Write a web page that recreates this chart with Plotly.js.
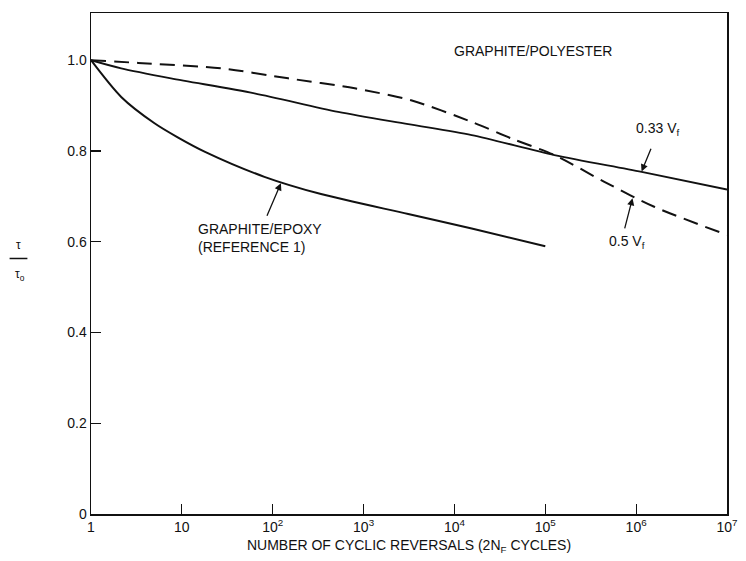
<!DOCTYPE html>
<html>
<head>
<meta charset="utf-8">
<script src="https://cdn.plot.ly/plotly-3.0.1.min.js"></script>
<style>html,body{margin:0;padding:0;background:#fff;}#chart{width:746px;height:561px;}</style>
</head>
<body>
<div id="chart"></div>
<script>
// Graphite/epoxy (Reference 1)
const epoxyX = [1, 2.15, 5, 9, 18, 81, 340, 3100, 15500, 100000];
const epoxyY = [1.0, 0.919, 0.861, 0.830, 0.798, 0.743, 0.705, 0.661, 0.629, 0.590];
// Graphite/polyester 0.33 Vf
const v033X = [1, 2.15, 7.6, 63, 525, 3100, 15500, 126000, 1150000, 10000000];
const v033Y = [1.0, 0.982, 0.960, 0.927, 0.886, 0.859, 0.835, 0.791, 0.754, 0.715];
// Graphite/polyester 0.5 Vf
const v05X = [1, 3.3, 27, 148, 800, 3400, 15500, 43000, 126000, 447000, 1580000, 10000000];
const v05Y = [1.0, 0.994, 0.982, 0.960, 0.938, 0.911, 0.864, 0.827, 0.791, 0.732, 0.677, 0.615];

const xTickVals = [1, 10, 100, 1000, 10000, 100000, 1000000, 10000000];
const xTickText = ['1', '10', '10<sup>2</sup>', '10<sup>3</sup>', '10<sup>4</sup>', '10<sup>5</sup>', '10<sup>6</sup>', '10<sup>7</sup>'];
const yTickVals = [0, 0.2, 0.4, 0.6, 0.8, 1.0];
const yTickText = ['0', '0.2', '0.4', '0.6', '0.8', '1.0'];

const FAM = 'Liberation Sans, Arial, sans-serif';
const INK = '#111';
const f = (s) => ({family: FAM, size: s, color: INK});

const traces = [
  {x: epoxyX, y: epoxyY, mode: 'lines', line: {color: INK, width: 2, shape: 'spline', smoothing: 0.8}, hoverinfo: 'skip'},
  {x: v033X, y: v033Y, mode: 'lines', line: {color: INK, width: 1.8, shape: 'spline', smoothing: 0.8}, hoverinfo: 'skip'},
  {x: v05X, y: v05Y, mode: 'lines', line: {color: INK, width: 2, shape: 'spline', smoothing: 0.8, dash: '15px,8px'}, hoverinfo: 'skip'}
];

const arrow = {text: '', showarrow: true, arrowhead: 2, arrowsize: 1.1, arrowwidth: 1.3, arrowcolor: INK, xref: 'x', yref: 'y', axref: 'x', ayref: 'y', standoff: 0};

const layout = {
  width: 746, height: 561,
  margin: {l: 91, r: 19, t: 13, b: 47},
  paper_bgcolor: '#fff', plot_bgcolor: '#fff',
  showlegend: false,
  font: f(14),
  xaxis: {
    type: 'log', range: [0, 7],
    tickvals: xTickVals, ticktext: xTickText,
    ticks: 'inside', ticklen: 10, tickwidth: 1.2, tickcolor: INK,
    showline: true, linecolor: INK, linewidth: 1.5, mirror: true,
    showgrid: false, zeroline: false,
    tickfont: f(14),
    title: {text: 'NUMBER OF CYCLIC REVERSALS (2N<sub>F</sub> CYCLES)', font: f(14), standoff: 6}
  },
  yaxis: {
    range: [0, 1.104],
    tickvals: yTickVals, ticktext: yTickText,
    ticks: 'inside', ticklen: 10, tickwidth: 1.2, tickcolor: INK,
    showline: true, linecolor: INK, linewidth: 1.5, mirror: true,
    showgrid: false, zeroline: false,
    tickfont: f(14)
  },
  shapes: [
    {type: 'line', xref: 'paper', yref: 'paper', x0: -0.128, x1: -0.1, y0: 0.51, y1: 0.51, line: {color: INK, width: 1.5}}
  ],
  annotations: [
    {text: 'GRAPHITE/POLYESTER', x: 0.695, y: 0.925, xref: 'paper', yref: 'paper', xanchor: 'center', yanchor: 'middle', showarrow: false, font: f(14)},
    {text: 'τ', x: -0.114, y: 0.537, xref: 'paper', yref: 'paper', xanchor: 'center', yanchor: 'middle', showarrow: false, font: f(12)},
    {text: 'τ<sub>o</sub>', x: -0.112, y: 0.478, xref: 'paper', yref: 'paper', xanchor: 'center', yanchor: 'middle', showarrow: false, font: f(12)},
    {text: 'GRAPHITE/EPOXY<br>(REFERENCE 1)', x: 1.155, y: 0.651, xref: 'x', yref: 'y', xanchor: 'left', yanchor: 'top', align: 'left', showarrow: false, font: f(14)},
    {text: '0.33 V<sub>f</sub>', x: 6.23, y: 0.848, xref: 'x', yref: 'y', xanchor: 'center', yanchor: 'middle', showarrow: false, font: f(14)},
    {text: '0.5 V<sub>f</sub>', x: 5.9, y: 0.600, xref: 'x', yref: 'y', xanchor: 'center', yanchor: 'middle', showarrow: false, font: f(14)},
    Object.assign({}, arrow, {x: 2.09, y: 0.729, ax: 1.93, ay: 0.654}),
    Object.assign({}, arrow, {x: 6.06, y: 0.755, ax: 6.17, ay: 0.808}),
    Object.assign({}, arrow, {x: 5.96, y: 0.696, ax: 5.87, ay: 0.626})
  ]
};

Plotly.newPlot('chart', traces, layout, {staticPlot: true, displayModeBar: false});
</script>
</body>
</html>
